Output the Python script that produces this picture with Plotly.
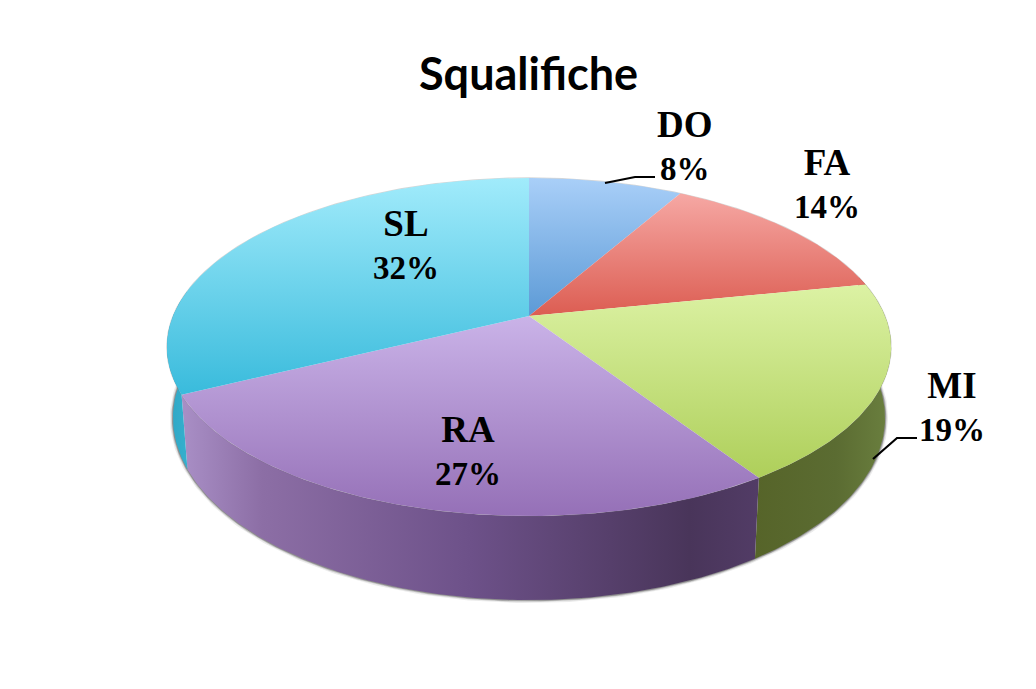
import numpy as np
import plotly.graph_objects as go

# --- data ---
categories = ["DO", "FA", "MI", "RA", "SL"]
shares = [8.2, 13.6, 19.0, 26.9, 32.3]   # read from the slice boundaries; labels show them rounded

# --- style ---
top_colors = {
    "DO": ("#a9cff8", "#5c9ad6"),
    "FA": ("#f6a8a4", "#dc5d52"),
    "MI": ("#dcf2a4", "#aecf5a"),
    "RA": ("#cab3e8", "#9570b7"),
    "SL": ("#a1ebfb", "#39bbdc"),
}
wall_scales = {
    "DO": [[0, "#4a7fb5"], [1, "#4a7fb5"]],
    "FA": [[0, "#a94a42"], [1, "#a94a42"]],
    "MI": [[0, "#566429"], [0.6, "#5b6c32"], [1, "#6b803f"]],
    "RA": [[0, "#a98fc6"], [0.14, "#8c6ea5"], [0.5, "#6d5189"], [0.88, "#49355a"], [1, "#523c66"]],
    "SL": [[0, "#2fa6c4"], [1, "#37b2d0"]],
}
label_pos = {"DO": (685, 145), "FA": (827, 183), "MI": (952, 406), "RA": (468, 450), "SL": (406, 244)}
leaders = {"DO": ([605, 635, 655], [183, 177, 177]), "MI": ([873, 897, 917], [459, 438, 438])}

# perspective projection of the pie disc onto the page
CX, K_TOP, K_BOT, PERSP, A, B, DROP = 529, 356, 350, -0.1834, 105.4, 316, 68.6


def project(theta, bottom=False):
    u, v = np.sin(theta), -np.cos(theta)
    den = 1 + PERSP * v
    k = K_BOT if bottom else K_TOP
    return CX + k * u / den, (A * v + B + (DROP if bottom else 0)) / den


def arc(a0, a1):
    n = max(int((a1 - a0) * 90), 4)
    return np.linspace(a0, a1, n)


edges = np.cumsum([0] + shares) / sum(shares) * 2 * np.pi
fig = go.Figure()

# soft shadow under the front edge
t_all = arc(np.pi * 0.42, np.pi * 1.52)
sx, sy = project(t_all, bottom=True)
for w, alpha in ((6, 0.10), (3.5, 0.22), (1.8, 0.4)):
    fig.add_trace(go.Scatter(x=sx, y=sy, mode="lines", hoverinfo="skip",
                             line=dict(color=f"rgba(60,60,60,{alpha})", width=w)))

# walls, drawn first so the top faces cover their hidden part
for i, c in enumerate(categories):
    a0, a1 = edges[i], edges[i + 1]
    a0v, a1v = max(a0, np.pi * 0.42), min(a1, np.pi * 1.55)
    if a1v <= a0v:
        continue
    t = arc(a0v, a1v)
    xt, yt = project(t)
    xb, yb = project(t[::-1], bottom=True)
    fig.add_trace(go.Scatter(
        x=np.r_[xt, xb, xt[0]], y=np.r_[yt, yb, yt[0]], mode="lines", fill="toself",
        line=dict(width=0), hoverinfo="skip",
        fillgradient=dict(type="horizontal", colorscale=wall_scales[c]),
    ))

# hairline around the top disc
tt = arc(0, 2 * np.pi)
ex, ey = project(tt)
fig.add_trace(go.Scatter(x=ex, y=ey, mode="lines", hoverinfo="skip",
                         line=dict(color="rgba(120,120,120,0.3)", width=1.2)))

# top faces (light at the far edge, darker towards the viewer; the colour scale runs up the page)
for i, c in enumerate(categories):
    t = arc(edges[i], edges[i + 1])
    xt, yt = project(t)
    fig.add_trace(go.Scatter(
        x=np.r_[CX, xt, CX], y=np.r_[B, yt, B], mode="lines", fill="toself",
        line=dict(width=0), hoverinfo="skip",
        fillgradient=dict(type="vertical",
                          colorscale=[[0, top_colors[c][1]], [1, top_colors[c][0]]]),
    ))

# leader lines
for c, (lx, ly) in leaders.items():
    fig.add_trace(go.Scatter(x=lx, y=ly, mode="lines", hoverinfo="skip",
                             line=dict(color="#000000", width=2.2)))

# labels
annotations = []
for c, p in zip(categories, shares):
    px, py = label_pos[c]
    annotations.append(dict(
        x=px, y=py, xref="x", yref="y",
        text=f"<b><span style='font-size:37px'>{c}</span><br>{round(p)}%</b>", showarrow=False,
        xanchor="center", yanchor="middle", align="center",
        font=dict(family="Liberation Serif", size=33, color="#000000"),
    ))
annotations.append(dict(
    x=528, y=73, xref="x", yref="y", text="<b>Squalifiche</b>", showarrow=False,
    xanchor="center", yanchor="middle",
    font=dict(family="Lato", size=45, color="#000000"),
))

fig.update_layout(
    width=1036, height=689, margin=dict(l=0, r=0, t=0, b=0),
    paper_bgcolor="#ffffff", plot_bgcolor="#ffffff", showlegend=False,
    xaxis=dict(range=[0, 1036], visible=False, fixedrange=True),
    yaxis=dict(range=[689, 0], visible=False, fixedrange=True),
    annotations=annotations,
)
fig.write_html("out.html", config={"displayModeBar": False},
               post_script="document.body.style.margin='0';")
